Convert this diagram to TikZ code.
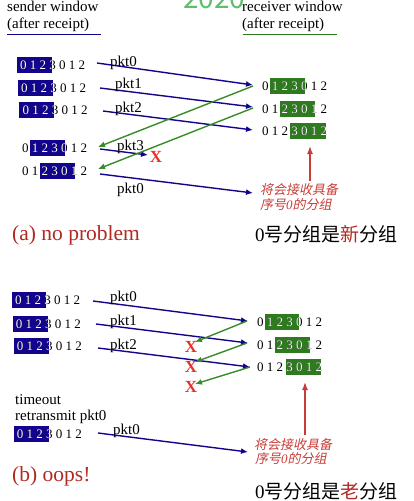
\documentclass[tikz,border=0pt]{standalone}
\usepackage{fontspec}
\setmainfont{Liberation Serif}
\newfontfamily\cjk{Noto Sans CJK SC}
\newfontfamily\cjkit[FakeSlant=0.2]{Noto Sans CJK SC}
\usetikzlibrary{arrows.meta}
\definecolor{navy}{RGB}{18,4,140}
\definecolor{dgreen}{RGB}{46,122,30}
\definecolor{ackgreen}{RGB}{55,140,40}
\definecolor{lred}{RGB}{200,60,55}
\definecolor{dred}{RGB}{178,40,34}
\definecolor{xred}{RGB}{230,50,40}
\definecolor{wmgreen}{RGB}{95,190,105}
\tikzset{
  digits/.style={font=\fontsize{13}{13}\selectfont, inner sep=0pt, anchor=base west},
  hdr/.style={font=\fontsize{15}{15}\selectfont, inner sep=0pt, anchor=base west},
  pktlabel/.style={font=\fontsize{15}{15}\selectfont, inner sep=0pt, anchor=base west},
  datamsg/.style={draw=navy, line width=1.4pt, -{Latex[length=7pt,width=6pt]}},
  ackmsg/.style={draw=ackgreen, line width=1.4pt, -{Latex[length=7pt,width=6pt]}},
  notearrow/.style={draw=lred, line width=1.4pt, -{Latex[length=8pt,width=6pt]}},
  lost/.style={font=\bfseries\fontsize{17}{17}\selectfont, text=xred, inner sep=0pt},
  note/.style={font=\cjkit\fontsize{13}{13}\selectfont, text=lred, inner sep=0pt, anchor=west},
  title/.style={font=\fontsize{21.5}{21.5}\selectfont, text=dred, inner sep=0pt, anchor=base west},
  verdict/.style={font=\fontsize{19}{19}\selectfont, inner sep=0pt, anchor=base west}
}
% #1 name, #2 text x, #3 centre y, #4 box left, #5 box right, #6 fill colour
\newcommand\winrow[6]{%
  \fill[#6] (#4,#3-8) rectangle (#5,#3+8);
  \node[digits] (#1) at (#2,#3+4.3) {0 1 2 3 0 1 2};
  \begin{scope}
    \clip (#4,#3-8) rectangle (#5,#3+8);
    \node[digits,text=white] (#1w) at (#2,#3+4.3) {0 1 2 3 0 1 2};
  \end{scope}}
\begin{document}
\begin{tikzpicture}[x=1pt,y=-1pt]
\useasboundingbox (0,0) rectangle (414,501);
% watermark (cut off at the top edge, as in the reference)
\begin{scope}
  \clip (0,0) rectangle (414,501);
  \node[text=wmgreen, font=\cjk\fontsize{28}{28}\selectfont, anchor=base west, inner sep=0pt] (wm) at (183,8.5) {2020};
\end{scope}
% headers
\node[hdr] (sw1) at (7,11) {sender window};
\node[hdr] (sw2) at (7,28.5) {(after receipt)};
\coordinate (ul1a) at (7,34.5); \coordinate (ul1b) at (101,34.5);
\draw[navy, line width=1.5pt] (ul1a) -- (ul1b);
\node[hdr] (rw1) at (242,11) {receiver window};
\node[hdr] (rw2) at (242,28.5) {(after receipt)};
\coordinate (ul2a) at (243,34.5); \coordinate (ul2b) at (337,34.5);
\draw[dgreen, line width=1.5pt] (ul2a) -- (ul2b);

% ---------------- (a) ----------------
\winrow{s1}{20}{65}{17}{52}{navy}
\winrow{s2}{21}{88}{18}{53}{navy}
\winrow{s3}{22.5}{110}{19}{54}{navy}
\winrow{s4}{22}{148}{30}{65}{navy}
\winrow{s5}{22}{171}{40}{75}{navy}
\winrow{r1}{262}{86}{270}{305}{dgreen}
\winrow{r2}{262}{109}{280}{315}{dgreen}
\winrow{r3}{262}{131}{290}{326}{dgreen}

\coordinate (a0s) at (97,63);   \coordinate (a0e) at (253,85);
\coordinate (a1s) at (100,88);  \coordinate (a1e) at (253,107);
\coordinate (a2s) at (103,111); \coordinate (a2e) at (253,130);
\coordinate (a3s) at (100,149); \coordinate (a3e) at (148,155);
\coordinate (a4s) at (100,174); \coordinate (a4e) at (253,193);
\coordinate (k1s) at (253,86);  \coordinate (k1e) at (98,147);
\coordinate (k2s) at (253,108); \coordinate (k2e) at (98,169);
\draw[datamsg] (a0s) -- (a0e);
\draw[datamsg] (a1s) -- (a1e);
\draw[datamsg] (a2s) -- (a2e);
\draw[datamsg] (a3s) -- (a3e);
\draw[datamsg] (a4s) -- (a4e);
\draw[ackmsg] (k1s) -- (k1e);
\draw[ackmsg] (k2s) -- (k2e);
\node[pktlabel] (la0) at (110,66) {pkt0};
\node[pktlabel] (la1) at (115,88) {pkt1};
\node[pktlabel] (la2) at (115,112) {pkt2};
\node[pktlabel] (la3) at (117,150) {pkt3};
\node[pktlabel] (la4) at (117,193) {pkt0};
\node[lost] (xa) at (156,157) {X};
\coordinate (na0) at (310,181); \coordinate (na1) at (310,146);
\draw[notearrow] (na0) -- (na1);
\node[note] (nta1) at (260,190) {将会接收具备};
\node[note] (nta2) at (260,205) {序号\textit{\fontspec{Liberation Serif}0}的分组};
\node[title] (ta) at (12,240) {(a) no problem};
\node[verdict] (va) at (255,241) {0{\cjk 号分组是\textcolor{dred}{新}分组}};

% ---------------- (b) ----------------
\winrow{b1}{15}{300}{12}{46}{navy}
\winrow{b2}{15.7}{324}{13}{48}{navy}
\winrow{b3}{16.7}{346}{14}{49}{navy}
\node[hdr] (to1) at (15,404) {timeout};
\node[hdr] (to2) at (15,420) {retransmit pkt0};
\winrow{b4}{16.7}{434}{14}{49}{navy}
\winrow{q1}{257}{322}{265}{299}{dgreen}
\winrow{q2}{257}{345}{275}{310}{dgreen}
\winrow{q3}{257}{367}{286}{321}{dgreen}

\coordinate (b0s) at (93,301);  \coordinate (b0e) at (248,321);
\coordinate (b1s) at (96,324);  \coordinate (b1e) at (248,343);
\coordinate (b2s) at (98,348);  \coordinate (b2e) at (250,367);
\coordinate (b3s) at (98,433);  \coordinate (b3e) at (248,452);
\coordinate (c1s) at (247,321); \coordinate (c1e) at (195,342);
\coordinate (c2s) at (247,343); \coordinate (c2e) at (195,362);
\coordinate (c3s) at (250,367); \coordinate (c3e) at (195,384);
\draw[datamsg] (b0s) -- (b0e);
\draw[datamsg] (b1s) -- (b1e);
\draw[datamsg] (b2s) -- (b2e);
\draw[datamsg] (b3s) -- (b3e);
\draw[ackmsg] (c1s) -- (c1e);
\draw[ackmsg] (c2s) -- (c2e);
\draw[ackmsg] (c3s) -- (c3e);
\node[pktlabel] (lb0) at (110,301) {pkt0};
\node[pktlabel] (lb1) at (110,325) {pkt1};
\node[pktlabel] (lb2) at (110,349) {pkt2};
\node[pktlabel] (lb3) at (113,434) {pkt0};
\node[lost] (xb1) at (191,347) {X};
\node[lost] (xb2) at (191,367) {X};
\node[lost] (xb3) at (191,387) {X};
\coordinate (nb0) at (305,435); \coordinate (nb1) at (305,382);
\draw[notearrow] (nb0) -- (nb1);
\node[note] (ntb1) at (254,445) {将会接收具备};
\node[note] (ntb2) at (255,459) {序号\textit{\fontspec{Liberation Serif}0}的分组};
\node[title] (tb) at (12,481) {(b) oops!};
\node[verdict] (vb) at (255,498) {0{\cjk 号分组是\textcolor{dred}{老}分组}};
\end{tikzpicture}
\end{document}
